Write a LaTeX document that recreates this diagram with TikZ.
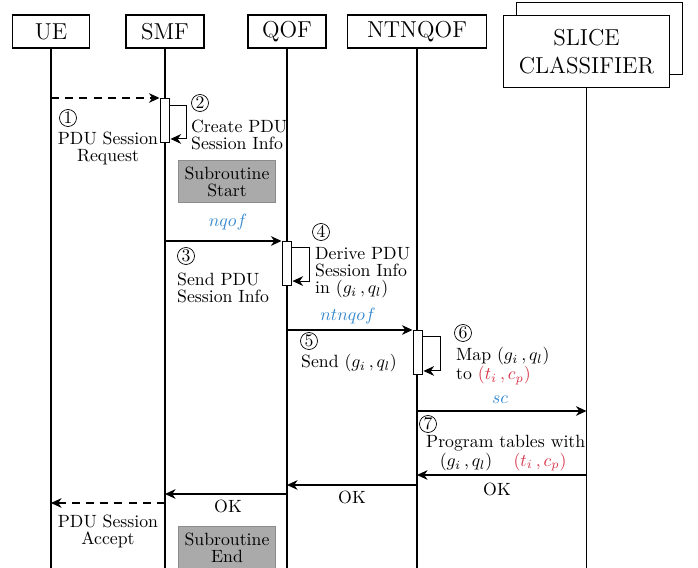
\documentclass[tikz,border=0pt]{standalone}
\usepackage{tikz}
\usetikzlibrary{arrows.meta,positioning}
\definecolor{msgblue}{RGB}{52,136,206}
\definecolor{tupred}{RGB}{214,52,72}
\definecolor{subfill}{RGB}{170,170,170}
\definecolor{subline}{RGB}{140,140,140}
\newcommand{\gq}{$(g_i\,,q_l)$}
\newcommand{\tc}{\textcolor{tupred}{$(t_i\,,c_p)$}}

\begin{document}
\begin{tikzpicture}[x=0.564pt,y=-0.564pt,semithick,
  every node/.style={font=\fontsize{10pt}{9.6pt}\selectfont,inner sep=1.5pt},
  entity/.style={draw,fill=white,minimum height=18.6pt,font=\fontsize{13pt}{16pt}\selectfont,align=center},
  act/.style={draw,fill=white,minimum width=5.6pt,minimum height=25pt,inner sep=0pt,anchor=north},
  stepnum/.style={draw,thin,circle,minimum size=9.6pt,inner sep=0pt},
  subbox/.style={draw=subline,fill=subfill,minimum width=55pt,minimum height=24pt,align=center},
  msg/.style={-{Stealth[length=6pt,width=5.5pt]}},
  reply/.style={msg,dash pattern=on 4.5pt off 3.5pt},
  chan/.style={text=msgblue}]
\useasboundingbox (0,0) rectangle (698,568);

\node[entity,minimum width=43pt] (ue) at (51,31.5) {UE};
\node[entity,minimum width=44pt] (smf) at (165,31.5) {SMF};
\node[entity,minimum width=44pt] (qof) at (287,31.5) {QOF};
\node[entity,minimum width=78pt] (ntnqof) at (417,31.5) {NTNQOF};
\node[entity,minimum width=94pt,minimum height=41pt] (sliceBack) at (599.5,38.5) {};
\node[entity,minimum width=94pt,minimum height=41pt] (slice) at (586.5,51.5) {SLICE\\CLASSIFIER};

\foreach \n in {ue,smf,qof,ntnqof,slice}
  \draw (\n.south) -- (\n.south |- 0,575);

\node[act] (actA) at (165,98) {};
\node[act] (actB) at (287,241) {};
\node[act] (actC) at (418,330) {};

\draw[reply] (ue |- actA.north) -- (actA.north west);
\node[stepnum] (n1) at (68,118) {1};
\node[align=center] (lbl1) at (108,148) {PDU Session\\Request};

\draw[msg] ([yshift=-4pt]actA.north east) -- ++(16,0) |- ([yshift=2.5pt]actA.south east);
\node[stepnum] (n2) at (200,103) {2};
\node[align=left,anchor=west] (lbl2) at (188,134.5) {Create PDU\\Session Info};

\node[subbox] (subStart) at (227,181.5) {Subroutine\\Start};

\draw[msg] (smf |- actB.north) -- (actB.north west);
\node[chan] (chA) at (228,222) {$nqof$};
\node[stepnum] (n3) at (186,256) {3};
\node[align=left,anchor=west] (lbl3) at (174,287.5) {Send PDU\\Session Info};

\draw[msg] ([yshift=-3.5pt]actB.north east) -- ++(17,0) |- ([yshift=3pt]actB.south east);
\node[stepnum] (n4) at (321,232) {4};
\node[align=left,anchor=west] (lbl4) at (312,273) {Derive PDU\\Session Info\\in \gq};

\draw[msg] (qof |- actC.north) -- (actC.north west);
\node[chan] (chB) at (348,316) {$ntnqof$};
\node[stepnum] (n5) at (309,341) {5};
\node[anchor=west] (lbl5) at (298,363) {Send \gq};

\draw[msg] ([yshift=-3.5pt]actC.north east) -- ++(17,0) |- ([yshift=2.5pt]actC.south east);
\node[stepnum] (n6) at (463,333) {6};
\node[align=left,anchor=west] (lbl6) at (453,366) {Map \gq\\to \tc};

\coordinate (y7) at (0,411);
\draw[msg] (ntnqof |- y7) -- (slice |- y7);
\node[chan] (chC) at (500,400) {$sc$};
\node[stepnum] (n7) at (428,424) {7};
\node[anchor=west] (lbl7) at (423,443) {Program tables with};
\node (lbl7a) at (466,462) {\gq};
\node (lbl7b) at (540,462) {\tc};

\coordinate (yOkA) at (0,475);
\coordinate (yOkB) at (0,485);
\coordinate (yOkC) at (0,494);
\coordinate (yAcc) at (0,503);
\draw[msg] (slice |- yOkA) -- (ntnqof |- yOkA);
\node (okA) at (497,489) {OK};
\draw[msg] (ntnqof |- yOkB) -- (qof |- yOkB);
\node (okB) at (352,497) {OK};
\draw[msg] (qof |- yOkC) -- (smf |- yOkC);
\node (okC) at (228,506) {OK};
\draw[reply] (smf |- yAcc) -- (ue |- yAcc);
\node[align=center] (lblAcc) at (108,531) {PDU Session\\Accept};

\node[subbox] (subEnd) at (227,548) {Subroutine\\End};
\end{tikzpicture}
\end{document}
